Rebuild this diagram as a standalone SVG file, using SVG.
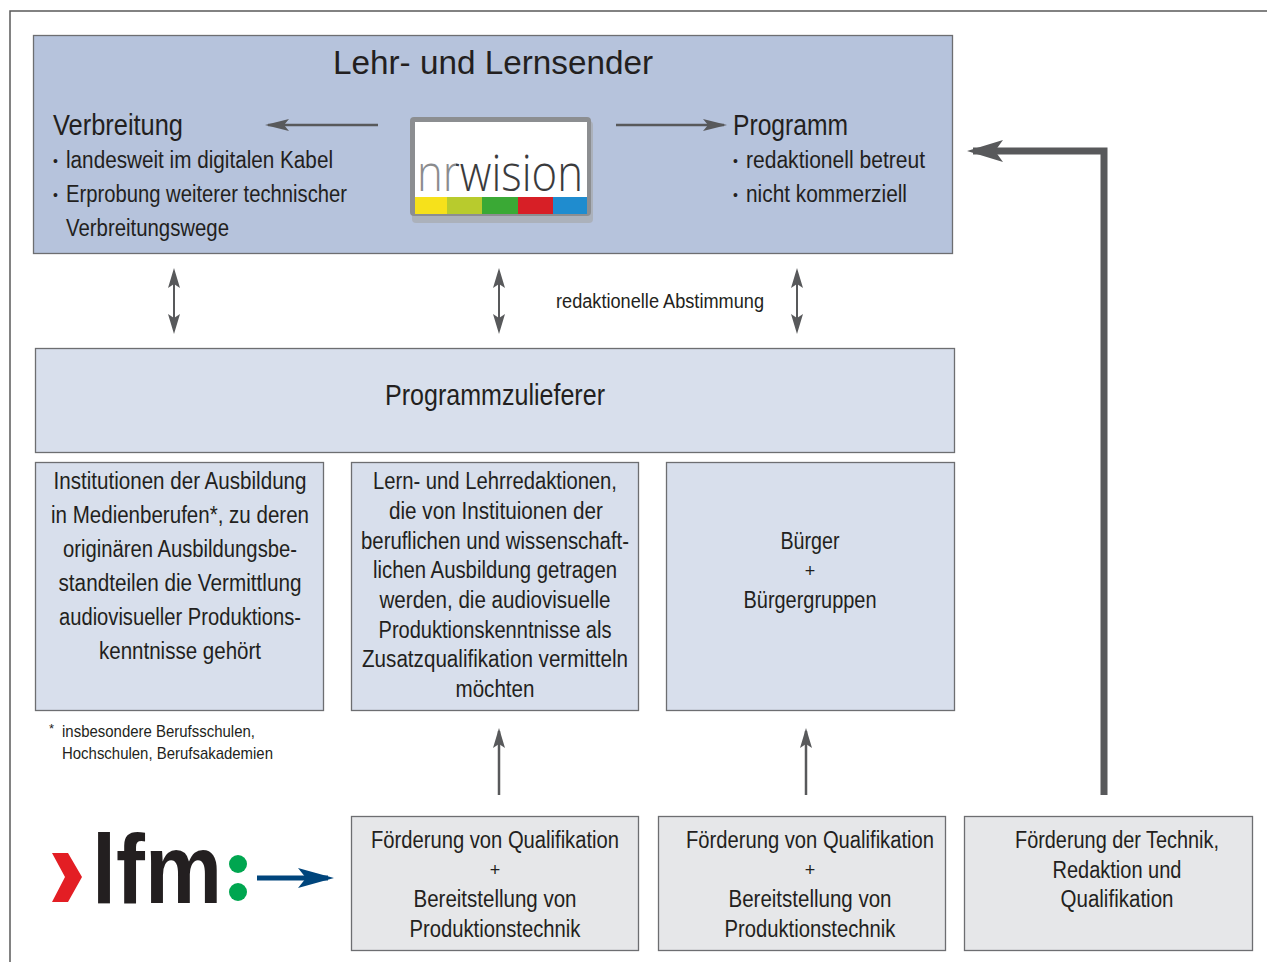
<svg xmlns="http://www.w3.org/2000/svg" width="1267" height="962" viewBox="0 0 1267 962">
<style>
.t{font-family:"Liberation Sans Narrow","Liberation Sans",Arial,sans-serif;fill:#231f20;}
.c{text-anchor:middle;}
.b{font-size:23px;}
.h{font-size:29px;}
.s{font-size:17px;}
.dot{font-size:14px;}
.logo{font-family:"Open Sans","DejaVu Sans",sans-serif;font-weight:300;font-size:50px;}
.box{stroke:#6d6e71;stroke-width:1.3;}
.blue{fill:#b6c3dc;}
.light{fill:#d8dfec;}
.grey{fill:#e6e7e9;}
.con{stroke:#58595b;fill:none;}
</style>
<defs>
<linearGradient id="nrgrad" gradientUnits="userSpaceOnUse" x1="417" y1="0" x2="583" y2="0">
<stop offset="0" stop-color="#8a8b8d"/>
<stop offset="0.235" stop-color="#8a8b8d"/>
<stop offset="0.235" stop-color="#3a3a3c"/>
<stop offset="1" stop-color="#3a3a3c"/>
</linearGradient>
<marker id="ah" viewBox="0 0 20 12" markerWidth="20" markerHeight="12" refX="17" refY="6" orient="auto-start-reverse" markerUnits="userSpaceOnUse"><path d="M0,0 L20,6 L0,12 L4,6 z" fill="#58595b"/></marker>
<marker id="ahH" viewBox="0 0 24 12" markerWidth="24" markerHeight="12" refX="21" refY="6" orient="auto" markerUnits="userSpaceOnUse"><path d="M0,0 L24,6 L0,12 L5,6 z" fill="#58595b"/></marker>
<marker id="ahBig" viewBox="0 0 36 22" markerWidth="36" markerHeight="22" refX="30" refY="11" orient="auto" markerUnits="userSpaceOnUse"><path d="M0,0 L36,11 L0,22 L8,11 z" fill="#58595b"/></marker>
<marker id="ahBlue" viewBox="0 0 36 20" markerWidth="36" markerHeight="20" refX="30" refY="10" orient="auto" markerUnits="userSpaceOnUse"><path d="M0,0 L36,10 L0,20 L8,10 z" fill="#00457c"/></marker>
</defs>
<rect width="1267" height="962" fill="#ffffff"/>
<path d="M10,962 L10,11 L1267,11" fill="none" stroke="#5a5a5a" stroke-width="1.5"/>

<g id="lehr-und-lernsender">
<rect class="box blue" x="33.5" y="35.5" width="919" height="218"/>
<text class="t c" x="493" y="74" font-size="34" textLength="320" lengthAdjust="spacingAndGlyphs">Lehr- und Lernsender</text>
<text class="t h" x="53" y="135" textLength="130" lengthAdjust="spacingAndGlyphs">Verbreitung</text>
<text class="t dot" x="53" y="166">•</text>
<text class="t b" x="66" y="168" textLength="267" lengthAdjust="spacingAndGlyphs">landesweit im digitalen Kabel</text>
<text class="t dot" x="53" y="200">•</text>
<text class="t b" x="66" y="202" textLength="281" lengthAdjust="spacingAndGlyphs">Erprobung weiterer technischer</text>
<text class="t b" x="66" y="236" textLength="163" lengthAdjust="spacingAndGlyphs">Verbreitungswege</text>
<text class="t h" x="733" y="135" textLength="115" lengthAdjust="spacingAndGlyphs">Programm</text>
<text class="t dot" x="733" y="166">•</text>
<text class="t b" x="746" y="168" textLength="179" lengthAdjust="spacingAndGlyphs">redaktionell betreut</text>
<text class="t dot" x="733" y="200">•</text>
<text class="t b" x="746" y="202" textLength="161" lengthAdjust="spacingAndGlyphs">nicht kommerziell</text>
<g id="nrwision-logo">
<rect x="412" y="121" width="181" height="102" rx="4" fill="#a7a9ac" opacity="0.7"/>
<rect x="410" y="117" width="181" height="99" rx="4" fill="#8c8e91"/>
<rect x="415" y="122" width="172" height="75" fill="#ffffff"/>
<rect x="415" y="197" width="32" height="17" fill="#f6e11b"/>
<rect x="447" y="197" width="35" height="17" fill="#b8cb2d"/>
<rect x="482" y="197" width="36" height="17" fill="#3aa935"/>
<rect x="518" y="197" width="35" height="17" fill="#d71f26"/>
<rect x="553" y="197" width="34" height="17" fill="#1f8ccf"/>
<text class="logo" x="417" y="191" fill="url(#nrgrad)" textLength="166" lengthAdjust="spacingAndGlyphs">nrwision</text>
</g>
</g>

<g id="programmzulieferer">
<rect class="box light" x="35.5" y="348.5" width="919" height="104"/>
<text class="t c" x="495" y="405" font-size="30" textLength="220" lengthAdjust="spacingAndGlyphs">Programmzulieferer</text>
</g>

<g id="institutionen">
<rect class="box light" x="35.5" y="462.5" width="288" height="248"/>
<text class="t c b" x="180" y="489" textLength="253" lengthAdjust="spacingAndGlyphs">Institutionen der Ausbildung</text>
<text class="t c b" x="180" y="523" textLength="258" lengthAdjust="spacingAndGlyphs">in Medienberufen*, zu deren</text>
<text class="t c b" x="180" y="557" textLength="234" lengthAdjust="spacingAndGlyphs">originären Ausbildungsbe-</text>
<text class="t c b" x="180" y="591" textLength="243" lengthAdjust="spacingAndGlyphs">standteilen die Vermittlung</text>
<text class="t c b" x="180" y="625" textLength="242" lengthAdjust="spacingAndGlyphs">audiovisueller Produktions-</text>
<text class="t c b" x="180" y="659" textLength="162" lengthAdjust="spacingAndGlyphs">kenntnisse gehört</text>
</g>

<g id="redaktionen">
<rect class="box light" x="351.5" y="462.5" width="287" height="248"/>
<text class="t c b" x="495" y="489" textLength="244" lengthAdjust="spacingAndGlyphs">Lern- und Lehrredaktionen,</text>
<text class="t c b" x="496" y="519" textLength="214" lengthAdjust="spacingAndGlyphs">die von Instituionen der</text>
<text class="t c b" x="495" y="549" textLength="268" lengthAdjust="spacingAndGlyphs">beruflichen und wissenschaft-</text>
<text class="t c b" x="495" y="578" textLength="244" lengthAdjust="spacingAndGlyphs">lichen Ausbildung getragen</text>
<text class="t c b" x="495" y="608" textLength="231" lengthAdjust="spacingAndGlyphs">werden, die audiovisuelle</text>
<text class="t c b" x="495" y="638" textLength="233" lengthAdjust="spacingAndGlyphs">Produktionskenntnisse als</text>
<text class="t c b" x="495" y="667" textLength="266" lengthAdjust="spacingAndGlyphs">Zusatzqualifikation vermitteln</text>
<text class="t c b" x="495" y="697" textLength="79" lengthAdjust="spacingAndGlyphs">möchten</text>
</g>

<g id="buerger">
<rect class="box light" x="666.5" y="462.5" width="288" height="248"/>
<text class="t c b" x="810" y="549" textLength="59" lengthAdjust="spacingAndGlyphs">Bürger</text>
<text class="t c" x="810" y="577" font-size="18">+</text>
<text class="t c b" x="810" y="608" textLength="133" lengthAdjust="spacingAndGlyphs">Bürgergruppen</text>
</g>

<g id="fussnote">
<text class="t" x="49" y="733" font-size="13">*</text>
<text class="t s" x="62" y="737" textLength="193" lengthAdjust="spacingAndGlyphs">insbesondere Berufsschulen,</text>
<text class="t s" x="62" y="759" textLength="211" lengthAdjust="spacingAndGlyphs">Hochschulen, Berufsakademien</text>
</g>

<g id="foerderung-1">
<rect class="box grey" x="351.5" y="816.5" width="287" height="134"/>
<text class="t c b" x="495" y="848" textLength="248" lengthAdjust="spacingAndGlyphs">Förderung von Qualifikation</text>
<text class="t c" x="495" y="876" font-size="18">+</text>
<text class="t c b" x="495" y="907" textLength="163" lengthAdjust="spacingAndGlyphs">Bereitstellung von</text>
<text class="t c b" x="495" y="937" textLength="171" lengthAdjust="spacingAndGlyphs">Produktionstechnik</text>
</g>

<g id="foerderung-2">
<rect class="box grey" x="658.5" y="816.5" width="287" height="134"/>
<text class="t c b" x="810" y="848" textLength="248" lengthAdjust="spacingAndGlyphs">Förderung von Qualifikation</text>
<text class="t c" x="810" y="876" font-size="18">+</text>
<text class="t c b" x="810" y="907" textLength="163" lengthAdjust="spacingAndGlyphs">Bereitstellung von</text>
<text class="t c b" x="810" y="937" textLength="171" lengthAdjust="spacingAndGlyphs">Produktionstechnik</text>
</g>

<g id="foerderung-technik">
<rect class="box grey" x="964.5" y="816.5" width="288" height="134"/>
<text class="t c b" x="1117" y="848" textLength="204" lengthAdjust="spacingAndGlyphs">Förderung der Technik,</text>
<text class="t c b" x="1117" y="878" textLength="129" lengthAdjust="spacingAndGlyphs">Redaktion und</text>
<text class="t c b" x="1117" y="907" textLength="113" lengthAdjust="spacingAndGlyphs">Qualifikation</text>
</g>

<g id="lfm-logo">
<polygon points="52,853 68,853 82,877 68,902 52,902 65,877" fill="#e31e24"/>
<text x="92" y="903" font-family="'Liberation Sans',Arial,sans-serif" font-weight="bold" font-size="98" fill="#231f20" textLength="130" lengthAdjust="spacingAndGlyphs">lfm</text>
<circle cx="238" cy="864" r="9" fill="#00a650"/>
<circle cx="238" cy="892" r="9" fill="#00a650"/>
</g>

<g id="connectors">
<line class="con" x1="378" y1="125" x2="268" y2="125" stroke-width="2.5" marker-end="url(#ahH)"/>
<line class="con" x1="616" y1="125" x2="724" y2="125" stroke-width="2.5" marker-end="url(#ahH)"/>
<line class="con" x1="174" y1="271" x2="174" y2="331" stroke-width="2" marker-start="url(#ah)" marker-end="url(#ah)"/>
<line class="con" x1="499" y1="271" x2="499" y2="331" stroke-width="2" marker-start="url(#ah)" marker-end="url(#ah)"/>
<line class="con" x1="797" y1="271" x2="797" y2="331" stroke-width="2" marker-start="url(#ah)" marker-end="url(#ah)"/>
<text class="t" x="556" y="308" font-size="20" textLength="208" lengthAdjust="spacingAndGlyphs">redaktionelle Abstimmung</text>
<line class="con" x1="499" y1="795" x2="499" y2="731" stroke-width="2.5" marker-end="url(#ah)"/>
<line class="con" x1="806" y1="795" x2="806" y2="731" stroke-width="2.5" marker-end="url(#ah)"/>
<polyline class="con" points="1104,795 1104,151 973,151" stroke-width="7" marker-end="url(#ahBig)"/>
<line x1="257" y1="878" x2="328" y2="878" stroke="#00457c" stroke-width="5" marker-end="url(#ahBlue)"/>
</g>
</svg>
